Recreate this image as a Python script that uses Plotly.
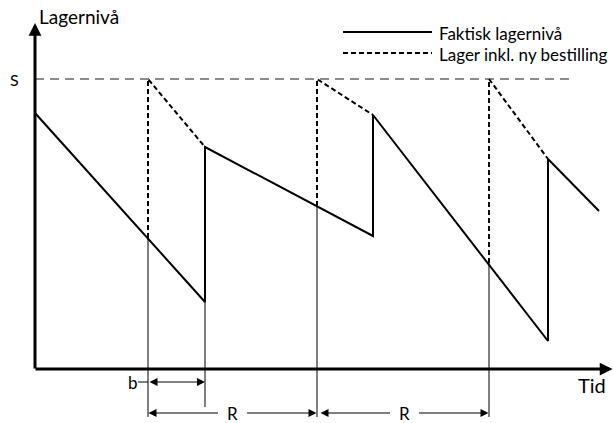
import plotly.graph_objects as go

# ---- data (time units, inventory-level units) ----
S_level = 29.0
actual_t = [0, 17.0, 17.0, 33.8, 33.8, 51.3, 51.3, 56.4]
actual_level = [25.6, 6.7, 22.2, 13.3, 25.4, 2.8, 21.0, 15.8]
order_t = [11.3, 28.2, 45.4]
order_level = [13.1, 16.3, 10.6]
delivery_t = [17.0, 33.8, 51.3]
delivery_level = [22.2, 25.4, 21.0]
legend_labels = ["Faktisk lagernivå", "Lager inkl. ny bestilling"]
axis_labels = ["Lagernivå", "Tid"]

FONT = "Lato"
x_range = [-3.5, 57.8]
y_range = [-5.4, 36.9]

fig = go.Figure()

# inventory position (dashed)
dx, dy = [], []
for ot, ol, dt, dl in zip(order_t, order_level, delivery_t, delivery_level):
    dx += [ot, ot, dt, None]
    dy += [ol, S_level, dl, None]

# S line (gray dashed)
fig.add_trace(go.Scatter(x=[0, 53.5], y=[S_level, S_level], mode="lines",
                         line=dict(color="#8c8c8c", width=2, dash="9px,6px"),
                         hoverinfo="skip", showlegend=False))

# thin guide lines
gx, gy = [], []
for ot, ol in zip(order_t, order_level):
    gx += [ot, ot, None]
    gy += [ol, -4.8, None]
gx += [delivery_t[0], delivery_t[0], None]
gy += [actual_level[1], -3.8, None]
fig.add_trace(go.Scatter(x=gx, y=gy, mode="lines",
                         line=dict(color="black", width=1),
                         hoverinfo="skip", showlegend=False))

fig.add_trace(go.Scatter(x=dx, y=dy, mode="lines", name=legend_labels[1],
                         line=dict(color="black", width=2, dash="5px,3px"),
                         showlegend=False))
fig.add_trace(go.Scatter(x=actual_t, y=actual_level, mode="lines", name=legend_labels[0],
                         line=dict(color="black", width=2),
                         showlegend=False))

# custom legend samples
fig.add_trace(go.Scatter(x=[30.8, 39.7], y=[33.7, 33.7], mode="lines",
                         line=dict(color="black", width=2),
                         hoverinfo="skip", showlegend=False))
fig.add_trace(go.Scatter(x=[30.8, 39.7], y=[31.6, 31.6], mode="lines",
                         line=dict(color="black", width=2, dash="5px,3px"),
                         hoverinfo="skip", showlegend=False))

# b leader line
fig.add_trace(go.Scatter(x=[10.3, 11.3], y=[-1.3, -1.3], mode="lines",
                         line=dict(color="black", width=1),
                         hoverinfo="skip", showlegend=False))

ann = []
def arrow(x, y, ax, ay, width, size, head=2, side="end"):
    ann.append(dict(x=x, y=y, ax=ax, ay=ay, xref="x", yref="y", axref="x", ayref="y",
                    text="", showarrow=True, arrowhead=head, startarrowhead=head,
                    arrowwidth=width, arrowsize=size, arrowcolor="black",
                    arrowside=side))

# axes
arrow(0, 34.6, 0, -0.1, 3, 0.85)
arrow(57.75, 0, -0.1, 0, 3, 0.85)

# b arrow
arrow(delivery_t[0], -1.3, order_t[0], -1.3, 1, 1.6, side="end+start")
# R arrows (split around label)
def r_arrow(t0, t1):
    mid = (t0 + t1) / 2
    arrow(t0 + 0.05, -4.4, mid - 1.3, -4.4, 1, 1.6)
    arrow(t1 - 0.05, -4.4, mid + 1.3, -4.4, 1, 1.6)
    ann.append(dict(x=mid, y=-4.4, xref="x", yref="y", text="R", showarrow=False,
                    font=dict(family=FONT, size=17, color="black")))
r_arrow(order_t[0], order_t[1])
r_arrow(order_t[1] + 0.3, order_t[2])

def label(x, y, t, xanchor="left", size=17):
    ann.append(dict(x=x, y=y, xref="x", yref="y", text=t, showarrow=False,
                    xanchor=xanchor, yanchor="middle",
                    font=dict(family=FONT, size=size, color="black")))

label(0.2, 35.3, axis_labels[0], size=19)
label(54.1, -1.6, axis_labels[1], size=20)
label(-2.7, S_level, "S", size=16)
label(9.1, -1.3, "b", size=17)
label(40.2, 33.6, legend_labels[0])
label(40.2, 31.5, legend_labels[1])

fig.update_layout(
    width=613, height=423,
    margin=dict(l=0, r=0, t=0, b=0),
    paper_bgcolor="white", plot_bgcolor="white",
    xaxis=dict(range=x_range, visible=False, fixedrange=True),
    yaxis=dict(range=y_range, visible=False, fixedrange=True),
    annotations=ann,
    showlegend=False,
)

# remove the default 8px page margin so the figure fills the window
fig.write_html("out.html", config={"displayModeBar": False},
               post_script="document.body.style.margin='0';")
